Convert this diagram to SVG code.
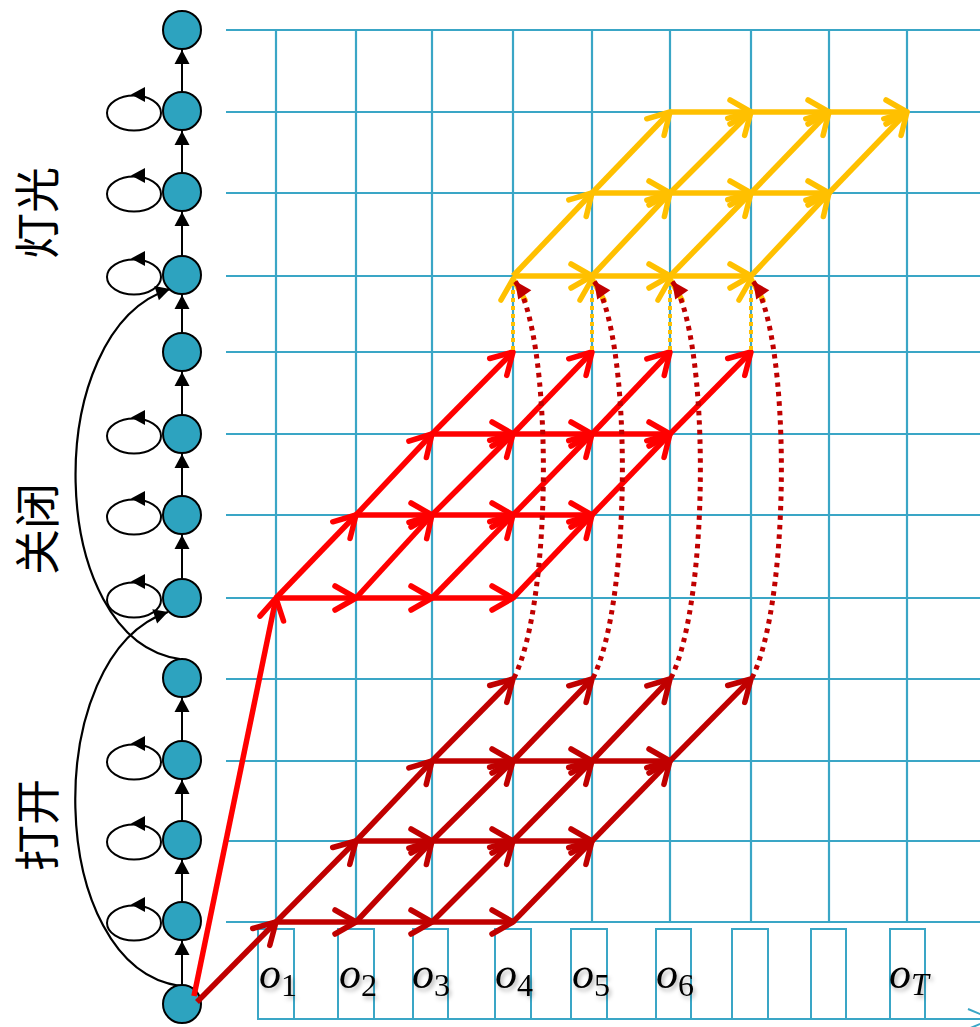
<svg xmlns="http://www.w3.org/2000/svg" width="980" height="1027" viewBox="0 0 980 1027">
<defs>
<style>
.grid line{stroke:#3AA6C6;stroke-width:2.2}
.box{fill:#fff;stroke:#3AA6C6;stroke-width:2}
.node{fill:#2DA3BF;stroke:#000;stroke-width:2}
.loop{fill:none;stroke:#000;stroke-width:2}
.varr{stroke:#000;stroke-width:2;marker-end:url(#mB)}
.arc{fill:none;stroke:#000;stroke-width:2.2;marker-end:url(#mB)}
.dr{fill:none;stroke:#C00000;stroke-width:5.5;marker-end:url(#mDR)}
.rd{fill:none;stroke:#FF0000;stroke-width:5.5;marker-end:url(#mRD)}
.yl{fill:none;stroke:#FFC000;stroke-width:5.5;marker-end:url(#mYL)}
.ydot{fill:none;stroke:#FFC000;stroke-width:4;stroke-dasharray:4 4;marker-end:url(#mYL)}
.drdot{fill:none;stroke:#C00000;stroke-width:5;stroke-dasharray:4.5 5;marker-end:url(#mDRf)}
.lab{font-family:"Noto Sans CJK SC","Noto Sans",sans-serif;font-size:46px;fill:#000}
.obs{font-family:"Liberation Serif",serif;font-style:italic;font-size:44px;fill:#000}
.sub{font-size:32px;font-style:normal}
</style>
<marker id="mDR" viewBox="-28 -17 32 34" refX="0" refY="0" markerWidth="32" markerHeight="34" markerUnits="userSpaceOnUse" orient="auto" overflow="visible"><path d="M-21,-12 L0,0 L-21,12" fill="none" stroke="#C00000" stroke-width="5.5" stroke-linecap="round" stroke-linejoin="round"/></marker>
<marker id="mRD" viewBox="-28 -17 32 34" refX="0" refY="0" markerWidth="32" markerHeight="34" markerUnits="userSpaceOnUse" orient="auto" overflow="visible"><path d="M-21,-12 L0,0 L-21,12" fill="none" stroke="#FF0000" stroke-width="5.5" stroke-linecap="round" stroke-linejoin="round"/></marker>
<marker id="mYL" viewBox="-28 -17 32 34" refX="0" refY="0" markerWidth="32" markerHeight="34" markerUnits="userSpaceOnUse" orient="auto" overflow="visible"><path d="M-21,-12 L0,0 L-21,12" fill="none" stroke="#FFC000" stroke-width="5.5" stroke-linecap="round" stroke-linejoin="round"/></marker>
<marker id="mDRf" viewBox="-18 -9 19 18" refX="0" refY="0" markerWidth="19" markerHeight="18" markerUnits="userSpaceOnUse" orient="auto" overflow="visible"><path d="M0,0 L-17,-8 L-17,8 z" fill="#C00000"/></marker>
<marker id="mB" viewBox="-15 -8 16 16" refX="0" refY="0" markerWidth="16" markerHeight="16" markerUnits="userSpaceOnUse" orient="auto" overflow="visible"><path d="M0,0 L-14,-7.5 L-14,7.5 z" fill="#000"/></marker>
<filter id="sh" x="-30%" y="-30%" width="160%" height="160%"><feDropShadow dx="2" dy="3" stdDeviation="2" flood-color="#000" flood-opacity="0.3"/></filter>
</defs>
<rect width="980" height="1027" fill="#fff"/>

<g id="grid" class="grid">
<line x1="276" y1="30" x2="276" y2="922"/>
<line x1="356" y1="30" x2="356" y2="922"/>
<line x1="432" y1="30" x2="432" y2="922"/>
<line x1="513" y1="30" x2="513" y2="922"/>
<line x1="592" y1="30" x2="592" y2="922"/>
<line x1="670" y1="30" x2="670" y2="922"/>
<line x1="751" y1="30" x2="751" y2="922"/>
<line x1="829" y1="30" x2="829" y2="922"/>
<line x1="907" y1="30" x2="907" y2="922"/>
<line x1="226" y1="30" x2="980" y2="30"/>
<line x1="226" y1="112" x2="980" y2="112"/>
<line x1="226" y1="193" x2="980" y2="193"/>
<line x1="226" y1="276" x2="980" y2="276"/>
<line x1="226" y1="352" x2="980" y2="352"/>
<line x1="226" y1="434" x2="980" y2="434"/>
<line x1="226" y1="515" x2="980" y2="515"/>
<line x1="226" y1="598" x2="980" y2="598"/>
<line x1="226" y1="679" x2="980" y2="679"/>
<line x1="226" y1="761" x2="980" y2="761"/>
<line x1="226" y1="841" x2="980" y2="841"/>
<line x1="226" y1="922" x2="980" y2="922"/>
</g>

<g id="observations">
<rect class="box" x="258" y="929" width="36" height="90"/>
<rect class="box" x="338" y="929" width="36" height="90"/>
<rect class="box" x="413" y="929" width="35" height="90"/>
<rect class="box" x="495" y="929" width="36" height="90"/>
<rect class="box" x="571" y="929" width="36" height="90"/>
<rect class="box" x="656" y="929" width="35" height="90"/>
<rect class="box" x="732" y="929" width="36" height="90"/>
<rect class="box" x="811" y="929" width="35" height="90"/>
<rect class="box" x="890" y="929" width="35" height="90"/>
<line x1="258" y1="1019" x2="992" y2="1019" stroke="#3AA6C6" stroke-width="2"/>
<path d="M968,1009 L992,1019 L968,1029" fill="none" stroke="#3AA6C6" stroke-width="2"/>
<g filter="url(#sh)">
<text class="obs" x="259" y="988">o<tspan class="sub" dy="8">1</tspan></text>
<text class="obs" x="339" y="988">o<tspan class="sub" dy="8">2</tspan></text>
<text class="obs" x="412" y="988">o<tspan class="sub" dy="8">3</tspan></text>
<text class="obs" x="495" y="988">o<tspan class="sub" dy="8">4</tspan></text>
<text class="obs" x="572" y="988">o<tspan class="sub" dy="8">5</tspan></text>
<text class="obs" x="656" y="988">o<tspan class="sub" dy="8">6</tspan></text>
<text class="obs" x="889" y="988">o<tspan class="sub" dy="7" style="font-style:italic">T</tspan></text>
</g>
</g>

<g id="labels">
<text class="lab" transform="translate(34,213) rotate(-90)" text-anchor="middle" dominant-baseline="central">灯光</text>
<text class="lab" transform="translate(34,529) rotate(-90)" text-anchor="middle" dominant-baseline="central">关闭</text>
<text class="lab" transform="translate(34,825) rotate(-90)" text-anchor="middle" dominant-baseline="central">打开</text>
</g>

<g id="state-connectors">
<line class="varr" x1="182" y1="985" x2="182" y2="941"/>
<line class="varr" x1="182" y1="902" x2="182" y2="860"/>
<line class="varr" x1="182" y1="821" x2="182" y2="780"/>
<line class="varr" x1="182" y1="741" x2="182" y2="698"/>
<line class="varr" x1="182" y1="579" x2="182" y2="535"/>
<line class="varr" x1="182" y1="496" x2="182" y2="454"/>
<line class="varr" x1="182" y1="415" x2="182" y2="372"/>
<line class="varr" x1="182" y1="333" x2="182" y2="295"/>
<line class="varr" x1="182" y1="256" x2="182" y2="212"/>
<line class="varr" x1="182" y1="173" x2="182" y2="131"/>
<line class="varr" x1="182" y1="92" x2="182" y2="50"/>
<path class="arc" d="M180,659 C45,640 40,330 170,289"/>
<path class="arc" d="M180,986 C45,967 40,655 168,612"/>
<g id="self-loops">
<ellipse class="loop" cx="134" cy="113" rx="27" ry="17.5"/><path d="M131,94.5 L145,87 L145,102 z"/>
<ellipse class="loop" cx="134" cy="194" rx="27" ry="17.5"/><path d="M131,175.5 L145,168 L145,183 z"/>
<ellipse class="loop" cx="134" cy="277" rx="27" ry="17.5"/><path d="M131,258.5 L145,251 L145,266 z"/>
<ellipse class="loop" cx="134" cy="436" rx="27" ry="17.5"/><path d="M131,417.5 L145,410 L145,425 z"/>
<ellipse class="loop" cx="134" cy="517" rx="27" ry="17.5"/><path d="M131,498.5 L145,491 L145,506 z"/>
<ellipse class="loop" cx="134" cy="600" rx="27" ry="17.5"/><path d="M131,581.5 L145,574 L145,589 z"/>
<ellipse class="loop" cx="134" cy="762" rx="27" ry="17.5"/><path d="M131,743.5 L145,736 L145,751 z"/>
<ellipse class="loop" cx="134" cy="842" rx="27" ry="17.5"/><path d="M131,823.5 L145,816 L145,831 z"/>
<ellipse class="loop" cx="134" cy="923" rx="27" ry="17.5"/><path d="M131,904.5 L145,897 L145,912 z"/>
</g>
</g>

<g id="s1"><circle class="node" cx="182" cy="30" r="19"/></g>
<g id="s2"><circle class="node" cx="182" cy="111" r="19"/></g>
<g id="s3"><circle class="node" cx="182" cy="192" r="19"/></g>
<g id="s4"><circle class="node" cx="182" cy="275" r="19"/></g>
<g id="s5"><circle class="node" cx="182" cy="352" r="19"/></g>
<g id="s6"><circle class="node" cx="182" cy="434" r="19"/></g>
<g id="s7"><circle class="node" cx="182" cy="515" r="19"/></g>
<g id="s8"><circle class="node" cx="182" cy="598" r="19"/></g>
<g id="s9"><circle class="node" cx="182" cy="678" r="19"/></g>
<g id="s10"><circle class="node" cx="182" cy="760" r="19"/></g>
<g id="s11"><circle class="node" cx="182" cy="840" r="19"/></g>
<g id="s12"><circle class="node" cx="182" cy="921" r="19"/></g>
<g id="s13"><circle class="node" cx="182" cy="1004" r="19"/></g>

<g id="connectors">
<g id="open-lattice">
<path class="dr" d="M197,1002 L276,922"/>
<path class="dr" d="M276,922 L356,922"/><path class="dr" d="M356,922 L432,922"/><path class="dr" d="M432,922 L513,922"/>
<path class="dr" d="M356,841 L432,841"/><path class="dr" d="M432,841 L513,841"/><path class="dr" d="M513,841 L592,841"/>
<path class="dr" d="M432,761 L513,761"/><path class="dr" d="M513,761 L592,761"/><path class="dr" d="M592,761 L670,761"/>
<path class="dr" d="M276,922 L356,841"/><path class="dr" d="M356,922 L432,841"/><path class="dr" d="M432,922 L513,841"/><path class="dr" d="M513,922 L592,841"/>
<path class="dr" d="M356,841 L432,761"/><path class="dr" d="M432,841 L513,761"/><path class="dr" d="M513,841 L592,761"/><path class="dr" d="M592,841 L670,761"/>
<path class="dr" d="M432,761 L513,679"/><path class="dr" d="M513,761 L592,679"/><path class="dr" d="M592,761 L670,679"/><path class="dr" d="M670,761 L751,679"/>
</g>
<g id="close-lattice">
<path class="rd" d="M194,996 L276,598"/>
<path class="rd" d="M276,598 L356,598"/><path class="rd" d="M356,598 L432,598"/><path class="rd" d="M432,598 L513,598"/>
<path class="rd" d="M356,515 L432,515"/><path class="rd" d="M432,515 L513,515"/><path class="rd" d="M513,515 L592,515"/>
<path class="rd" d="M432,434 L513,434"/><path class="rd" d="M513,434 L592,434"/><path class="rd" d="M592,434 L670,434"/>
<path class="rd" d="M276,598 L356,515"/><path class="rd" d="M356,598 L432,515"/><path class="rd" d="M432,598 L513,515"/><path class="rd" d="M513,598 L592,515"/>
<path class="rd" d="M356,515 L432,434"/><path class="rd" d="M432,515 L513,434"/><path class="rd" d="M513,515 L592,434"/><path class="rd" d="M592,515 L670,434"/>
<path class="rd" d="M432,434 L513,352"/><path class="rd" d="M513,434 L592,352"/><path class="rd" d="M592,434 L670,352"/><path class="rd" d="M670,434 L751,352"/>
</g>
<g id="light-lattice">
<path class="yl" d="M513,276 L592,276"/><path class="yl" d="M592,276 L670,276"/><path class="yl" d="M670,276 L751,276"/>
<path class="yl" d="M592,193 L670,193"/><path class="yl" d="M670,193 L751,193"/><path class="yl" d="M751,193 L829,193"/>
<path class="yl" d="M670,112 L751,112"/><path class="yl" d="M751,112 L829,112"/><path class="yl" d="M829,112 L907,112"/>
<path class="yl" d="M513,276 L592,193"/><path class="yl" d="M592,276 L670,193"/><path class="yl" d="M670,276 L751,193"/><path class="yl" d="M751,276 L829,193"/>
<path class="yl" d="M592,193 L670,112"/><path class="yl" d="M670,193 L751,112"/><path class="yl" d="M751,193 L829,112"/><path class="yl" d="M829,193 L907,112"/>
</g>
<g id="links">
<path class="ydot" d="M513,350 L513,279"/><path class="ydot" d="M592,350 L592,279"/><path class="ydot" d="M670,350 L670,279"/><path class="ydot" d="M751,350 L751,279"/>
<path class="drdot" d="M514,678 C553,600 553,335 515,281"/>
<path class="drdot" d="M593,678 C632,600 632,335 594,281"/>
<path class="drdot" d="M671,678 C710,600 710,335 672,281"/>
<path class="drdot" d="M752,678 C791,600 791,335 753,281"/>
</g>
</g>
</svg>
